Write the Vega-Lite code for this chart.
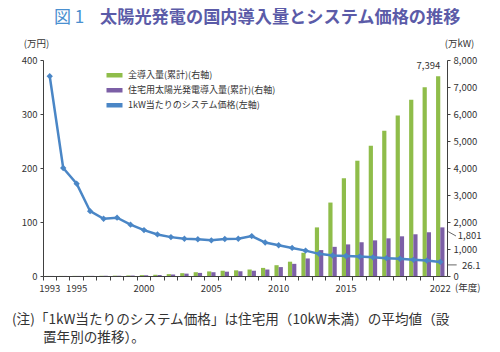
{
  "$schema": "https://vega.github.io/schema/vega-lite/v6.json",
  "width": 404,
  "height": 216,
  "autosize": {"type": "none"},
  "padding": {"left": 43, "top": 60, "right": 53, "bottom": 76},
  "background": "white",
  "config": {
    "font": "Noto Sans CJK JP",
    "view": {"stroke": null},
    "axis": {
      "grid": false,
      "domainColor": "#404040",
      "tickColor": "#404040",
      "labelColor": "#333333",
      "labelFontSize": 9.5,
      "labelFont": "Noto Sans CJK JP",
      "titleFont": "Noto Sans CJK JP",
      "titleFontWeight": "normal",
      "titleFontSize": 9.5,
      "titleColor": "#333333",
      "tickSize": 4
    }
  },
  "data": {
    "values": [
      {"year": 1993, "total": 2.4, "residential": 2, "price": 370},
      {"year": 1994, "total": 3.1, "residential": 2.5, "price": 200},
      {"year": 1995, "total": 4.3, "residential": 3.5, "price": 171},
      {"year": 1996, "total": 6, "residential": 5, "price": 120},
      {"year": 1997, "total": 9, "residential": 7.5, "price": 106},
      {"year": 1998, "total": 13, "residential": 11, "price": 108},
      {"year": 1999, "total": 21, "residential": 17, "price": 95},
      {"year": 2000, "total": 33, "residential": 27, "price": 85},
      {"year": 2001, "total": 45, "residential": 38, "price": 77},
      {"year": 2002, "total": 70, "residential": 58, "price": 72},
      {"year": 2003, "total": 105, "residential": 88, "price": 69},
      {"year": 2004, "total": 140, "residential": 115, "price": 68},
      {"year": 2005, "total": 170, "residential": 140, "price": 66},
      {"year": 2006, "total": 195, "residential": 160, "price": 68.5},
      {"year": 2007, "total": 210, "residential": 175, "price": 69},
      {"year": 2008, "total": 240, "residential": 195, "price": 74},
      {"year": 2009, "total": 300, "residential": 240, "price": 62},
      {"year": 2010, "total": 400, "residential": 330, "price": 57},
      {"year": 2011, "total": 530, "residential": 450, "price": 52},
      {"year": 2012, "total": 860, "residential": 650, "price": 47},
      {"year": 2013, "total": 1800, "residential": 960, "price": 41},
      {"year": 2014, "total": 2720, "residential": 1080, "price": 38},
      {"year": 2015, "total": 3620, "residential": 1170, "price": 37},
      {"year": 2016, "total": 4270, "residential": 1250, "price": 36},
      {"year": 2017, "total": 4820, "residential": 1320, "price": 34.5},
      {"year": 2018, "total": 5380, "residential": 1395, "price": 33},
      {"year": 2019, "total": 5940, "residential": 1470, "price": 32},
      {"year": 2020, "total": 6530, "residential": 1545, "price": 30},
      {"year": 2021, "total": 6990, "residential": 1620, "price": 28.5},
      {"year": 2022, "total": 7394, "residential": 1801, "price": 26.1}
    ]
  },
  "layer": [
    {
      "layer": [
        {
          "transform": [{"fold": ["total", "residential"], "as": ["series", "value"]}],
          "mark": {"type": "bar"},
          "encoding": {
            "x": {
              "field": "year", "type": "ordinal",
              "scale": {"paddingInner": 0, "paddingOuter": 0},
              "axis": {"orient": "bottom", "labels": false, "bandPosition": 0, "tickSize": 4, "title": null, "domain": true}
            },
            "xOffset": {"field": "series", "scale": {"domain": ["total", "residential"], "paddingOuter": 0.6, "paddingInner": 0}},
            "y": {
              "field": "value", "type": "quantitative",
              "scale": {"domain": [0, 8000]},
              "axis": {"orient": "right", "values": [0, 1000, 2000, 3000, 4000, 5000, 6000, 7000, 8000], "labelExpr": "format(datum.value, ',')", "labelOverlap": false, "title": "(万kW)", "titleAngle": 0, "titleX": 12, "titleY": -17, "titleAlign": "center", "titleBaseline": "middle", "tickSize": 3, "labelPadding": 3}
            },
            "color": {
              "field": "series",
              "scale": {"domain": ["total", "residential", "price"], "range": ["#8fbd4a", "#7c5fa6", "#4a86c6"]},
              "legend": {
                "orient": "none", "legendX": 61, "legendY": 8, "title": null,
                "symbolType": "stroke", "symbolSize": 256, "symbolStrokeWidth": 4.5,
                "labelFontSize": 9, "labelColor": "#333333", "labelFont": "Noto Sans CJK JP",
                "rowPadding": 0, "padding": 0, "labelOffset": 3, "clipHeight": 14.5,
                "labelExpr": "datum.value == 'total' ? '全導入量(累計)(右軸)' : datum.value == 'residential' ? '住宅用太陽光発電導入量(累計)(右軸)' : '1kW当たりのシステム価格(左軸)'"
              }
            }
          }
        },
        {
          "transform": [{"filter": "datum.year == 2022"}],
          "mark": {"type": "text", "align": "right", "baseline": "bottom", "dx": 0, "dy": -5, "fontSize": 9.5, "color": "#333333"},
          "encoding": {
            "x": {"field": "year", "type": "ordinal"},
            "y": {"field": "total", "type": "quantitative", "scale": {"domain": [0, 8000]},
              "axis": {"orient": "right", "values": [0, 1000, 2000, 3000, 4000, 5000, 6000, 7000, 8000], "labelExpr": "format(datum.value, ',')", "labelOverlap": false, "title": "(万kW)", "titleAngle": 0, "titleX": 12, "titleY": -17, "titleAlign": "center", "titleBaseline": "middle", "tickSize": 3, "labelPadding": 3}},
            "text": {"field": "total", "type": "quantitative", "format": ","}
          }
        },
        {
          "transform": [{"filter": "datum.year == 2022"}],
          "mark": {"type": "text", "align": "left", "baseline": "middle", "dx": 17.5, "dy": 8.6, "fontSize": 9.5, "color": "#333333"},
          "encoding": {
            "x": {"field": "year", "type": "ordinal"},
            "y": {"field": "residential", "type": "quantitative", "scale": {"domain": [0, 8000]},
              "axis": {"orient": "right", "values": [0, 1000, 2000, 3000, 4000, 5000, 6000, 7000, 8000], "labelExpr": "format(datum.value, ',')", "labelOverlap": false, "title": "(万kW)", "titleAngle": 0, "titleX": 12, "titleY": -17, "titleAlign": "center", "titleBaseline": "middle", "tickSize": 3, "labelPadding": 3}},
            "text": {"field": "residential", "type": "quantitative", "format": ","}
          }
        },
        {
          "transform": [{"filter": "datum.year == 2022"}],
          "mark": {"type": "rule", "color": "#404040", "strokeWidth": 0.8, "xOffset": 8, "x2Offset": 15.7, "yOffset": 4.3, "y2Offset": 8.6},
          "encoding": {
            "x": {"field": "year", "type": "ordinal"},
            "x2": {"field": "year"},
            "y": {"field": "residential", "type": "quantitative", "scale": {"domain": [0, 8000]},
              "axis": {"orient": "right", "values": [0, 1000, 2000, 3000, 4000, 5000, 6000, 7000, 8000], "labelExpr": "format(datum.value, ',')", "labelOverlap": false, "title": "(万kW)", "titleAngle": 0, "titleX": 12, "titleY": -17, "titleAlign": "center", "titleBaseline": "middle", "tickSize": 3, "labelPadding": 3}},
            "y2": {"field": "residential"}
          }
        }
      ]
    },
    {
      "layer": [
        {
          "mark": {"type": "line", "strokeWidth": 2.5, "point": {"shape": "diamond", "size": 40, "filled": true}},
          "encoding": {
            "x": {
              "field": "year", "type": "ordinal",
              "axis": {"orient": "bottom", "ticks": false, "tickSize": 0, "domain": false, "title": null, "labelAngle": 0, "labelPadding": 7, "labelOverlap": false,
                "labelExpr": "(datum.value == 1993 || datum.value == 1995 || datum.value == 2000 || datum.value == 2005 || datum.value == 2010 || datum.value == 2015 || datum.value == 2022) ? datum.value : ''"}
            },
            "y": {
              "field": "price", "type": "quantitative",
              "scale": {"domain": [0, 400]},
              "axis": {"orient": "left", "values": [0, 100, 200, 300, 400], "labelOverlap": false, "title": "(万円)", "titleAngle": 0, "titleX": -7, "titleY": -17, "titleAlign": "center", "titleBaseline": "middle", "tickSize": 3, "labelPadding": 3}
            },
            "color": {"datum": "price"}
          }
        },
        {
          "transform": [{"filter": "datum.year == 2022"}],
          "mark": {"type": "text", "align": "left", "baseline": "middle", "dx": 21.7, "dy": 4, "fontSize": 9.5, "color": "#333333"},
          "encoding": {
            "x": {"field": "year", "type": "ordinal"},
            "y": {"field": "price", "type": "quantitative", "scale": {"domain": [0, 400]},
              "axis": {"orient": "left", "values": [0, 100, 200, 300, 400], "labelOverlap": false, "title": "(万円)", "titleAngle": 0, "titleX": -7, "titleY": -17, "titleAlign": "center", "titleBaseline": "middle", "tickSize": 3, "labelPadding": 3}},
            "text": {"field": "price", "type": "quantitative", "format": ".1f"}
          }
        },
        {
          "transform": [{"filter": "datum.year == 2022"}],
          "mark": {"type": "rule", "color": "#404040", "strokeWidth": 0.8, "xOffset": 7.4, "x2Offset": 16.4, "yOffset": 3, "y2Offset": 3},
          "encoding": {
            "x": {"field": "year", "type": "ordinal"},
            "x2": {"field": "year"},
            "y": {"field": "price", "type": "quantitative", "scale": {"domain": [0, 400]},
              "axis": {"orient": "left", "values": [0, 100, 200, 300, 400], "labelOverlap": false, "title": "(万円)", "titleAngle": 0, "titleX": -7, "titleY": -17, "titleAlign": "center", "titleBaseline": "middle", "tickSize": 3, "labelPadding": 3}},
            "y2": {"field": "price"}
          }
        }
      ]
    },
    {
      "data": {"values": [{}]},
      "layer": [
        {"mark": {"type": "text", "text": "図 1", "x": 11, "y": -42, "align": "left", "baseline": "middle", "fontSize": 17, "color": "#4a90d0"}, "encoding": {}},
        {"mark": {"type": "text", "text": "太陽光発電の国内導入量とシステム価格の推移", "x": 57, "y": -42, "align": "left", "baseline": "middle", "fontSize": 17.2, "fontWeight": "bold", "color": "#5b5ba8"}, "encoding": {}},
        {"mark": {"type": "text", "text": "(年度)", "x": 412, "y": 228, "align": "left", "baseline": "middle", "fontSize": 9.5, "color": "#333333"}, "encoding": {}},
        {"mark": {"type": "text", "text": "(注)「1kW当たりのシステム価格」は住宅用（10kW未満）の平均値（設", "x": -31, "y": 260, "align": "left", "baseline": "middle", "fontSize": 13.6, "color": "#333333"}, "encoding": {}},
        {"mark": {"type": "text", "text": "置年別の推移）。", "x": 0, "y": 278, "align": "left", "baseline": "middle", "fontSize": 13.6, "color": "#333333"}, "encoding": {}}
      ]
    }
  ],
  "resolve": {"scale": {"y": "independent"}, "axis": {"x": "independent"}}
}
